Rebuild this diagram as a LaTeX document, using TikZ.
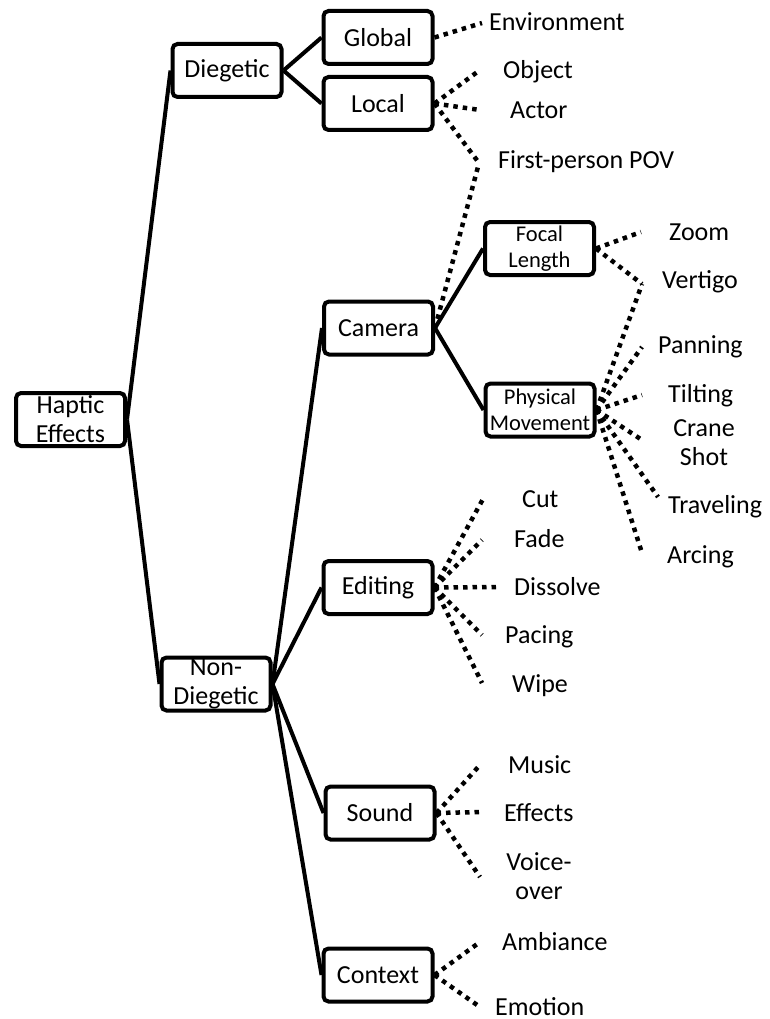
\documentclass[tikz,border=0pt]{standalone}
\usepackage{fontspec}
\setmainfont{Carlito}
\newcommand\bigf{\fontsize{26}{29}\selectfont}
\newcommand\smallf{\fontsize{22.5}{25.5}\selectfont}
\begin{document}
\begin{tikzpicture}[x=1pt,y=-1pt,
  box/.style={draw, line width=4pt, rounded corners=5pt, minimum width=109pt, minimum height=53pt, inner sep=0pt, align=center, font=\bigf},
  sbox/.style={box, font=\smallf},
  leaf/.style={inner sep=0pt, anchor=base west, font=\bigf},
  mleaf/.style={inner sep=0pt, anchor=base, align=center, font=\bigf},
  solid link/.style={line width=4pt},
  dot link/.style={line width=4.5pt, dash pattern=on 4.5pt off 5pt}]
\useasboundingbox (0,0) rectangle (769,1019);
% boxes
\node[box] (hap) at (70.5,419.5) {Haptic\\Effects};
\node[box] (dieg) at (227,70.5) {Diegetic};
\node[box] (nond) at (216,684) {Non-\\Diegetic};
\node[box] (glob) at (378,37.5) {Global};
\node[box] (loc) at (378,103.5) {Local};
\node[box] (cam) at (378.5,328) {Camera};
\node[sbox] (foc) at (539.5,248.5) {Focal\\Length};
\node[sbox] (pm) at (540,410) {Physical\\Movement};
\node[box] (edit) at (378,587.5) {Editing};
\node[box] (sound) at (380,813) {Sound};
\node[box] (ctx) at (378,975) {Context};
% leaves
\node[leaf] (env) at (489,31) {Environment};
\node[leaf] (obj) at (503,79) {Object};
\node[leaf] (act) at (510,119) {Actor};
\node[leaf] (pov) at (498,168) {First-person POV};
\node[leaf] (zoom) at (669,240) {Zoom};
\node[leaf] (vert) at (662,288) {Vertigo};
\node[leaf] (pan) at (658,353) {Panning};
\node[leaf] (tilt) at (668,402) {Tilting};
\node[mleaf] (crane) at (704,465) {Crane\\Shot};
\node[leaf] (trav) at (668,513) {Traveling};
\node[leaf] (arc) at (667,563) {Arcing};
\node[leaf] (cut) at (522,507) {Cut};
\node[leaf] (fade) at (514,547) {Fade};
\node[leaf] (diss) at (514,595) {Dissolve};
\node[leaf] (pac) at (505,643) {Pacing};
\node[leaf] (wipe) at (512,692) {Wipe};
\node[leaf] (mus) at (508,773) {Music};
\node[leaf] (eff) at (504,821) {Effects};
\node[mleaf] (voice) at (539,899) {Voice-\\over};
\node[leaf] (amb) at (502,950) {Ambiance};
\node[leaf] (emo) at (495,1015) {Emotion};
% dotted end points
\coordinate (eEnv) at (482,23);
\coordinate (eObj) at (480,70);
\coordinate (eAct) at (480,110);
\coordinate (ePov) at (479,163);
\coordinate (eZoom) at (641,232);
\coordinate (eVert) at (642,284);
\coordinate (ePan) at (642,347);
\coordinate (eTilt) at (642,395);
\coordinate (eCrane) at (642,440);
\coordinate (eTrav) at (658,497);
\coordinate (eArc) at (642,553);
\coordinate (eCut) at (483,499);
\coordinate (eFade) at (482,540);
\coordinate (eDiss) at (499,587);
\coordinate (ePac) at (482,635);
\coordinate (eWipe) at (482,683);
\coordinate (eMus) at (480,765);
\coordinate (eEff) at (480,812);
\coordinate (eVoice) at (480,877);
\coordinate (eAmb) at (480,942);
\coordinate (eEmo) at (480,1007);
% solid links
\draw[solid link] (hap.east) -- (dieg.west);
\draw[solid link] (hap.east) -- (nond.west);
\draw[solid link] (dieg.east) -- (glob.west);
\draw[solid link] (dieg.east) -- (loc.west);
\draw[solid link] (nond.east) -- (cam.west);
\draw[solid link] (nond.east) -- (edit.west);
\draw[solid link] (nond.east) -- (sound.west);
\draw[solid link] (nond.east) -- (ctx.west);
\draw[solid link] (cam.east) -- (foc.west);
\draw[solid link] (cam.east) -- (pm.west);
% dotted links
\draw[dot link] (glob.east) -- (eEnv);
\draw[dot link] (loc.east) -- (eObj);
\draw[dot link] (loc.east) -- (eAct);
\draw[dot link] (loc.east) -- (ePov);
\draw[dot link] (cam.east) -- (ePov);
\draw[dot link] (foc.east) -- (eZoom);
\draw[dot link] (foc.east) -- (eVert);
\draw[dot link] (pm.east) -- (eVert);
\draw[dot link] (pm.east) -- (ePan);
\draw[dot link] (pm.east) -- (eTilt);
\draw[dot link] (pm.east) -- (eCrane);
\draw[dot link] (pm.east) -- (eTrav);
\draw[dot link] (pm.east) -- (eArc);
\draw[dot link] (edit.east) -- (eCut);
\draw[dot link] (edit.east) -- (eFade);
\draw[dot link] (edit.east) -- (eDiss);
\draw[dot link] (edit.east) -- (ePac);
\draw[dot link] (edit.east) -- (eWipe);
\draw[dot link] (sound.east) -- (eMus);
\draw[dot link] (sound.east) -- (eEff);
\draw[dot link] (sound.east) -- (eVoice);
\draw[dot link] (ctx.east) -- (eAmb);
\draw[dot link] (ctx.east) -- (eEmo);
\end{tikzpicture}
\end{document}
